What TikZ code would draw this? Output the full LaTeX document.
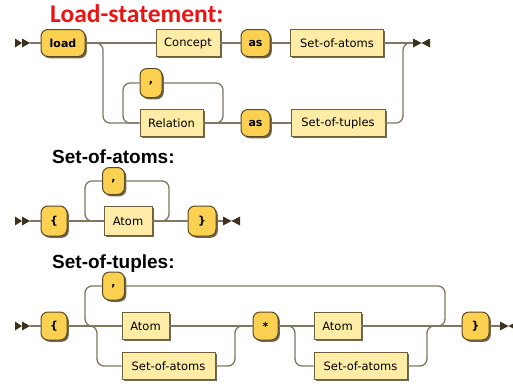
\documentclass[tikz,border=0pt]{standalone}
\usepackage{fontspec}
\setmainfont{DejaVu Sans}
\newfontfamily\redtitlefont{Carlito}
\newfontfamily\blacktitlefont{Liberation Sans}
\usetikzlibrary{shadows}
\definecolor{termfill}{RGB}{252,208,80}
\definecolor{termline}{RGB}{88,74,38}
\definecolor{ntfill}{RGB}{255,236,166}
\definecolor{ntline}{RGB}{110,96,58}
\definecolor{railcol}{RGB}{128,118,98}
\definecolor{tipcol}{RGB}{60,50,28}
\definecolor{shadecol}{RGB}{90,78,50}
\definecolor{titlered}{RGB}{235,20,20}

\begin{document}
\begin{tikzpicture}[x=1pt, y=-1pt,
  term/.style={draw=termline, fill=termfill, line width=1pt, rounded corners=7pt,
    font=\fontsize{11}{13}\selectfont\bfseries, minimum height=27pt, inner sep=0pt,
    drop shadow={shadow xshift=1.8pt, shadow yshift=-1.8pt, fill=shadecol, opacity=0.85}},
  nonterm/.style={draw=ntline, fill=ntfill, line width=0.8pt,
    font=\fontsize{11.5}{13}\selectfont, minimum height=27pt, inner sep=0pt,
    drop shadow={shadow xshift=1.8pt, shadow yshift=-1.8pt, fill=shadecol, opacity=0.85}},
  rail/.style={draw=railcol, line width=1.3pt, rounded corners=7pt},
  tipfill/.style={fill=tipcol},
  title/.style={inner sep=0pt, anchor=base west}]
\useasboundingbox (0,0) rectangle (513,383);

\node[title, font=\redtitlefont\fontsize{25.5}{30}\selectfont\bfseries, text=titlered] (LStitle) at (50,22) {Load-statement:};
\node[title, font=\blacktitlefont\fontsize{19}{22}\selectfont\bfseries] (SAtitle) at (52,163) {Set-of-atoms:};
\node[title, font=\blacktitlefont\fontsize{19}{22}\selectfont\bfseries] (STtitle) at (52,268) {Set-of-tuples:};

\node[term, minimum width=44pt] (LSload) at (63,43) {load};
\node[nonterm, minimum width=64pt] (LSconcept) at (188,43) {Concept};
\node[term, minimum width=29pt] (LSas1) at (255.5,43) {as};
\node[nonterm, minimum width=93pt] (LSatoms) at (337,43) {Set-of-atoms};
\node[term, minimum width=22pt, minimum height=29pt] (LScomma) at (151,83) {,};
\node[nonterm, minimum width=63pt] (LSrelation) at (171.5,123) {Relation};
\node[term, minimum width=29pt] (LSas2) at (255.5,123) {as};
\node[nonterm, minimum width=94pt] (LStuples) at (338,123) {Set-of-tuples};

\node[term, minimum width=26pt, minimum height=30pt] (SAlbrace) at (54,221) {\{};
\node[term, minimum width=22pt] (SAcomma) at (113.5,181) {,};
\node[nonterm, minimum width=48pt, minimum height=29pt] (SAatom) at (128,221) {Atom};
\node[term, minimum width=28pt, minimum height=30pt] (SArbrace) at (202,221) {\}};

\node[term, minimum width=26pt, minimum height=28pt] (STlbrace) at (54,326) {\{};
\node[term, minimum width=22pt, minimum height=28pt] (STcomma) at (113.5,286) {,};
\node[nonterm, minimum width=47pt] (STatomA) at (145.5,326) {Atom};
\node[nonterm, minimum width=93pt] (STsetA) at (168.5,366) {Set-of-atoms};
\node[term, minimum width=25pt, minimum height=28pt] (STstar) at (265.5,326) {*};
\node[nonterm, minimum width=47pt] (STatomB) at (337.5,326) {Atom};
\node[nonterm, minimum width=93pt] (STsetB) at (360.5,366) {Set-of-atoms};
\node[term, minimum width=27pt, minimum height=28pt] (STrbrace) at (475.5,326) {\}};

\coordinate (LSin) at (30,43);
\coordinate (LSout) at (413,43);
\coordinate (LSa) at (103,43);
\coordinate (LSb) at (103,123);
\coordinate (LSc) at (123,123);
\coordinate (LSd) at (123,83);
\coordinate (LSe) at (223,83);
\coordinate (LSf) at (223,123);
\coordinate (LSg) at (403,123);
\coordinate (LSh) at (403,43);

\coordinate (SAin) at (30,221);
\coordinate (SAout) at (223,221);
\coordinate (SAa) at (85,221);
\coordinate (SAb) at (85,181);
\coordinate (SAc) at (169,181);
\coordinate (SAd) at (169,221);

\coordinate (STin) at (30,326);
\coordinate (STout) at (500,326);
\coordinate (STa) at (85,326);
\coordinate (STb) at (85,286);
\coordinate (STc) at (445,286);
\coordinate (STd) at (445,326);
\coordinate (STe) at (97,326);
\coordinate (STf) at (97,366);
\coordinate (STg) at (235,366);
\coordinate (STh) at (235,326);
\coordinate (STi) at (295,326);
\coordinate (STj) at (295,366);
\coordinate (STk) at (427,366);
\coordinate (STl) at (427,326);

\draw[rail] (LSin) -- (LSload);
\draw[rail] (LSload) -- (LSconcept);
\draw[rail] (LSconcept) -- (LSas1);
\draw[rail] (LSas1) -- (LSatoms);
\draw[rail] (LSatoms.east) -- (LSout);
\draw[rail] (LSload.east) -- (LSa) -- (LSb) -- (LSrelation.west);
\draw[rail] (LScomma.west) -- (LSd) -- (LSc) -- (LSrelation.west);
\draw[rail] (LSrelation.east) -- (LSf) -- (LSe) -- (LScomma.east);
\draw[rail] (LSrelation) -- (LSas2);
\draw[rail] (LSas2) -- (LStuples);
\draw[rail] (LStuples.east) -- (LSg) -- (LSh) -- (LSout);

\draw[rail] (SAin) -- (SAlbrace);
\draw[rail] (SAlbrace) -- (SAatom);
\draw[rail] (SAatom) -- (SArbrace);
\draw[rail] (SArbrace.east) -- (SAout);
\draw[rail] (SAatom.east) -- (SAd) -- (SAc) -- (SAcomma.east);
\draw[rail] (SAcomma.west) -- (SAb) -- (SAa) -- (SAatom.west);

\draw[rail] (STin) -- (STlbrace);
\draw[rail] (STlbrace) -- (STatomA);
\draw[rail] (STlbrace.east) -- (STe) -- (STf) -- (STsetA.west);
\draw[rail] (STatomA) -- (STstar);
\draw[rail] (STsetA.east) -- (STg) -- (STh) -- (STstar.west);
\draw[rail] (STstar) -- (STatomB);
\draw[rail] (STstar.east) -- (STi) -- (STj) -- (STsetB.west);
\draw[rail] (STatomB) -- (STrbrace);
\draw[rail] (STsetB.east) -- (STk) -- (STl) -- (STrbrace.west);
\draw[rail] (STatomB.east) -- (STd) -- (STc) -- (STcomma.east);
\draw[rail] (STcomma.west) -- (STb) -- (STa) -- (STatomA.west);
\draw[rail] (STrbrace.east) -- (STout);

\fill[tipfill] (LSin) -- ++(-8,-4.5) -- ++(0,9) -- cycle;
\fill[tipfill] ([xshift=-8pt]LSin) -- ++(-7,-4.5) -- ++(0,9) -- cycle;
\fill[tipfill] (LSout) ++(0,-4.5) -- ++(17,9) -- ++(0,-9) -- ++(-17,9) -- cycle;
\fill[tipfill] (SAin) -- ++(-8,-4.5) -- ++(0,9) -- cycle;
\fill[tipfill] ([xshift=-8pt]SAin) -- ++(-7,-4.5) -- ++(0,9) -- cycle;
\fill[tipfill] (SAout) ++(0,-4.5) -- ++(17,9) -- ++(0,-9) -- ++(-17,9) -- cycle;
\fill[tipfill] (STin) -- ++(-8,-4.5) -- ++(0,9) -- cycle;
\fill[tipfill] ([xshift=-8pt]STin) -- ++(-7,-4.5) -- ++(0,9) -- cycle;
\fill[tipfill] (STout) ++(0,-4.5) -- ++(17,9) -- ++(0,-9) -- ++(-17,9) -- cycle;
\end{tikzpicture}
\end{document}
